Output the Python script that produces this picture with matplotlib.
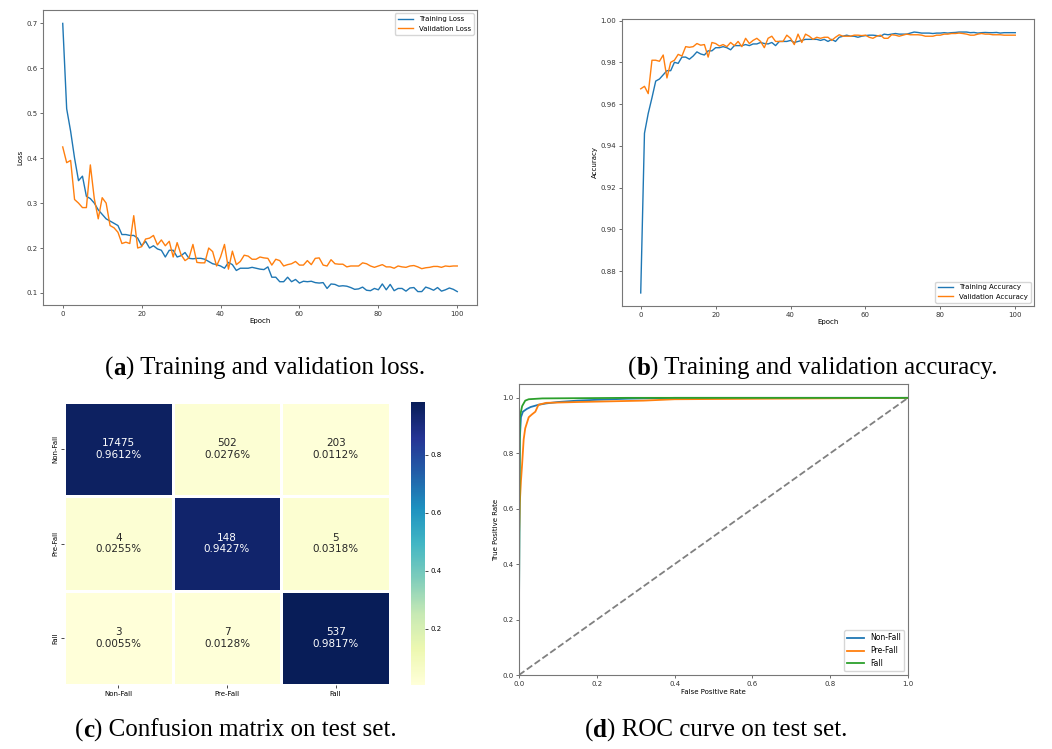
"""Training curves, confusion matrix and ROC curves for the fall detection model."""

import matplotlib
matplotlib.use('Agg')
import matplotlib.pyplot as plt
import numpy as np
import seaborn as sns

# ---------------------------------------------------------------- data
epochs = list(range(101))

train_loss = [0.70, 0.51, 0.46, 0.40, 0.35, 0.36, 0.315, 0.31, 0.30, 0.285,
              0.275, 0.265, 0.26, 0.255, 0.25, 0.23, 0.23, 0.228, 0.228, 0.222,
              0.205, 0.215, 0.20, 0.205, 0.198, 0.195, 0.18, 0.195, 0.195, 0.18,
              0.183, 0.19, 0.177, 0.176, 0.177, 0.177, 0.175, 0.17, 0.165, 0.163,
              0.16, 0.155, 0.168, 0.163, 0.15, 0.155, 0.155, 0.155, 0.157, 0.155,
              0.153, 0.152, 0.158, 0.135, 0.135, 0.125, 0.125, 0.135, 0.125, 0.13,
              0.122, 0.126, 0.125, 0.126, 0.123, 0.122, 0.123, 0.11, 0.12, 0.119,
              0.115, 0.116, 0.115, 0.112, 0.108, 0.109, 0.113, 0.106, 0.105, 0.11,
              0.107, 0.12, 0.107, 0.119, 0.105, 0.11, 0.11, 0.104, 0.111, 0.112,
              0.103, 0.103, 0.113, 0.11, 0.106, 0.112, 0.104, 0.107, 0.111, 0.108,
              0.103]
val_loss = [0.425, 0.39, 0.395, 0.308, 0.30, 0.29, 0.29, 0.385, 0.31, 0.265,
            0.312, 0.30, 0.25, 0.245, 0.235, 0.21, 0.213, 0.21, 0.272, 0.20,
            0.203, 0.22, 0.222, 0.228, 0.207, 0.218, 0.205, 0.215, 0.18, 0.212,
            0.185, 0.172, 0.178, 0.208, 0.168, 0.167, 0.167, 0.20, 0.192, 0.16,
            0.18, 0.208, 0.153, 0.193, 0.163, 0.17, 0.184, 0.182, 0.175, 0.175,
            0.18, 0.178, 0.177, 0.162, 0.175, 0.172, 0.16, 0.163, 0.165, 0.17,
            0.162, 0.162, 0.172, 0.163, 0.177, 0.178, 0.162, 0.16, 0.174, 0.165,
            0.164, 0.164, 0.158, 0.16, 0.16, 0.16, 0.167, 0.165, 0.16, 0.157,
            0.16, 0.163, 0.158, 0.158, 0.155, 0.16, 0.158, 0.157, 0.16, 0.161,
            0.158, 0.154, 0.156, 0.157, 0.159, 0.159, 0.157, 0.16, 0.159, 0.16,
            0.16]

train_acc = [0.8695, 0.946, 0.9555, 0.963, 0.971, 0.972, 0.974, 0.976, 0.976, 0.980,
             0.9795, 0.9825, 0.9825, 0.9815, 0.983, 0.985, 0.984, 0.9835, 0.9855, 0.9855,
             0.987, 0.987, 0.9875, 0.987, 0.986, 0.988, 0.988, 0.988, 0.9885, 0.988,
             0.9888, 0.9888, 0.9895, 0.989, 0.9888, 0.9895, 0.988, 0.990, 0.990, 0.990,
             0.9905, 0.9895, 0.990, 0.9905, 0.991, 0.991, 0.991, 0.991, 0.9905, 0.991,
             0.990, 0.991, 0.990, 0.992, 0.9925, 0.993, 0.9925, 0.9925, 0.992, 0.9925,
             0.9928, 0.993, 0.993, 0.9928, 0.9925, 0.9935, 0.9932, 0.9935, 0.9938, 0.9935,
             0.9935, 0.9935, 0.994, 0.9945, 0.9943, 0.994, 0.994, 0.994, 0.9938, 0.994,
             0.994, 0.9942, 0.994, 0.9942, 0.9943, 0.9945, 0.9945, 0.9945, 0.9942, 0.9943,
             0.994, 0.9942, 0.9943, 0.9942, 0.9942, 0.9943, 0.994, 0.9942, 0.9942, 0.9942,
             0.9942]
val_acc = [0.9673, 0.9685, 0.965, 0.981, 0.981, 0.9805, 0.9835, 0.9725, 0.980, 0.981,
           0.9838, 0.983, 0.9875, 0.9872, 0.9875, 0.989, 0.9882, 0.9885, 0.9825, 0.9895,
           0.989, 0.9878, 0.9885, 0.9875, 0.9895, 0.988, 0.990, 0.9875, 0.9915, 0.989,
           0.9905, 0.9915, 0.990, 0.987, 0.9915, 0.9925, 0.990, 0.990, 0.990, 0.993,
           0.9915, 0.9885, 0.9935, 0.9895, 0.9935, 0.9925, 0.991, 0.992, 0.9915, 0.992,
           0.992, 0.9905, 0.992, 0.9932, 0.9925, 0.9925, 0.9925, 0.993, 0.993, 0.9928,
           0.993, 0.992, 0.9915, 0.9925, 0.993, 0.9915, 0.9915, 0.9932, 0.993, 0.9925,
           0.993, 0.9935, 0.9932, 0.9932, 0.9932, 0.993, 0.9925, 0.9925, 0.9925, 0.993,
           0.993, 0.9935, 0.9935, 0.9938, 0.9938, 0.994, 0.9938, 0.9935, 0.993, 0.993,
           0.9935, 0.9938, 0.9935, 0.9935, 0.9932, 0.9932, 0.9932, 0.993, 0.993, 0.993,
           0.993]

classes = ['Non-Fall', 'Pre-Fall', 'Fall']
cm_counts = [[17475, 502, 203],
             [4, 148, 5],
             [3, 7, 537]]
cm_rates = [[0.9612, 0.0276, 0.0112],
            [0.0255, 0.9427, 0.0318],
            [0.0055, 0.0128, 0.9817]]

fpr_nonfall = [0, 0, 0.002, 0.005, 0.01, 0.02, 0.03, 0.05, 0.07, 0.1, 0.15, 0.2, 0.28, 0.4, 1.0]
tpr_nonfall = [0, 0.22, 0.85, 0.93, 0.95, 0.96, 0.967, 0.975, 0.98, 0.985, 0.99, 0.993, 0.997, 1.0, 1.0]
fpr_prefall = [0, 0, 0.002, 0.005, 0.008, 0.012, 0.016, 0.025, 0.033, 0.042, 0.05, 0.07,
               0.15, 0.32, 0.4, 0.63, 1.0]
tpr_prefall = [0, 0.5, 0.62, 0.7, 0.76, 0.85, 0.89, 0.93, 0.94, 0.95, 0.975, 0.982,
               0.985, 0.99, 0.995, 0.997, 1.0]
fpr_fall = [0, 0, 0.002, 0.008, 0.016, 0.025, 0.06, 0.28, 1.0]
tpr_fall = [0, 0.22, 0.93, 0.97, 0.99, 0.995, 0.998, 1.0, 1.0]

W, H = 1052, 749
TICK = 5
SERIF = 'Liberation Serif'
CAP = 18


def px_axes(fig, left, top, right, bottom):
    """Add an axes using pixel edges measured from the top-left corner."""
    return fig.add_axes([left / W, 1 - bottom / H, (right - left) / W, (bottom - top) / H])


def style_axes(ax):
    """Small tick labels and thin grey frame, like a downscaled notebook plot."""
    ax.tick_params(labelsize=TICK, length=2, width=0.5, colors='#333333', pad=2)
    for s in ax.spines.values():
        s.set_color('#777777')
        s.set_linewidth(0.8)


def caption(cap_ax, x, y, letter, text):
    """Draw '(x) text' with a bold letter, x/y in pixels of the text's baseline start."""
    t1 = cap_ax.text(x / W, 1 - y / H, '(', fontsize=CAP, family=SERIF,
                     va='baseline', ha='left', transform=cap_ax.transAxes)
    t2 = cap_ax.annotate(letter, xy=(1, 0), xycoords=t1, fontsize=CAP, family=SERIF,
                         fontweight='bold', va='bottom', ha='left')
    cap_ax.annotate(') ' + text, xy=(1, 0), xycoords=t2, fontsize=CAP, family=SERIF,
                    va='bottom', ha='left')


def main():
    fig = plt.figure(figsize=(W / 100, H / 100), dpi=100)

    # (a) loss
    ax = px_axes(fig, 43, 10, 477, 305)
    ax.plot(epochs, train_loss, color='#1f77b4', lw=1.0, label='Training Loss')
    ax.plot(epochs, val_loss, color='#ff7f0e', lw=1.0, label='Validation Loss')
    ax.set_xlabel('Epoch', fontsize=TICK, labelpad=1)
    ax.set_ylabel('Loss', fontsize=TICK, labelpad=2)
    ax.set_xticks([0, 20, 40, 60, 80, 100])
    style_axes(ax)
    ax.legend(fontsize=TICK, loc='upper right', handlelength=2.2)

    # (b) accuracy
    ax = px_axes(fig, 622, 19, 1034, 306)
    ax.plot(epochs, train_acc, color='#1f77b4', lw=1.0, label='Training Accuracy')
    ax.plot(epochs, val_acc, color='#ff7f0e', lw=1.0, label='Validation Accuracy')
    ax.set_xlabel('Epoch', fontsize=TICK, labelpad=1)
    ax.set_ylabel('Accuracy', fontsize=TICK, labelpad=2)
    ax.set_xticks([0, 20, 40, 60, 80, 100])
    style_axes(ax)
    ax.legend(fontsize=TICK, loc='lower right', handlelength=2.2)

    # (c) confusion matrix
    ax = px_axes(fig, 64, 402, 390, 685)
    cax = px_axes(fig, 411, 402, 425, 685)
    labels = np.array([[f'{c}\n{r:.4f}%' for c, r in zip(rc, rr)]
                       for rc, rr in zip(cm_counts, cm_rates)])
    sns.heatmap(np.array(cm_rates), annot=labels, fmt='', cmap='YlGnBu', ax=ax, cbar_ax=cax,
                linewidths=1, linecolor='white', annot_kws={'fontsize': 7.5},
                xticklabels=classes, yticklabels=classes)
    ax.tick_params(labelsize=TICK, length=2, width=0.5, pad=2)
    ax.set_yticklabels(classes, rotation=90, va='center')
    cax.tick_params(labelsize=TICK, length=2, width=0.5, pad=2)
    cax.set_yticks([0.2, 0.4, 0.6, 0.8])

    # (d) ROC
    ax = px_axes(fig, 519, 384, 908, 675)
    ax.plot(fpr_nonfall, tpr_nonfall, color='#1f77b4', lw=1.3, label='Non-Fall')
    ax.plot(fpr_prefall, tpr_prefall, color='#ff7f0e', lw=1.3, label='Pre-Fall')
    ax.plot(fpr_fall, tpr_fall, color='#2ca02c', lw=1.3, label='Fall')
    ax.plot([0, 1], [0, 1], color='gray', lw=1.3, ls='--')
    ax.set_xlim(0, 1)
    ax.set_ylim(0, 1.05)
    ax.set_xlabel('False Positive Rate', fontsize=TICK, labelpad=2)
    ax.set_ylabel('True Positive Rate', fontsize=TICK, labelpad=2)
    style_axes(ax)
    ax.legend(fontsize=TICK + 0.5, loc='lower right', handlelength=2.2)

    # captions
    cap_ax = fig.add_axes([0, 0, 1, 1])
    cap_ax.axis('off')
    caption(cap_ax, 105, 375, 'a', 'Training and validation loss.')
    caption(cap_ax, 628, 375, 'b', 'Training and validation accuracy.')
    caption(cap_ax, 75, 737, 'c', 'Confusion matrix on test set.')
    caption(cap_ax, 585, 737, 'd', 'ROC curve on test set.')

    fig.savefig('out.png', dpi=100)


main()
